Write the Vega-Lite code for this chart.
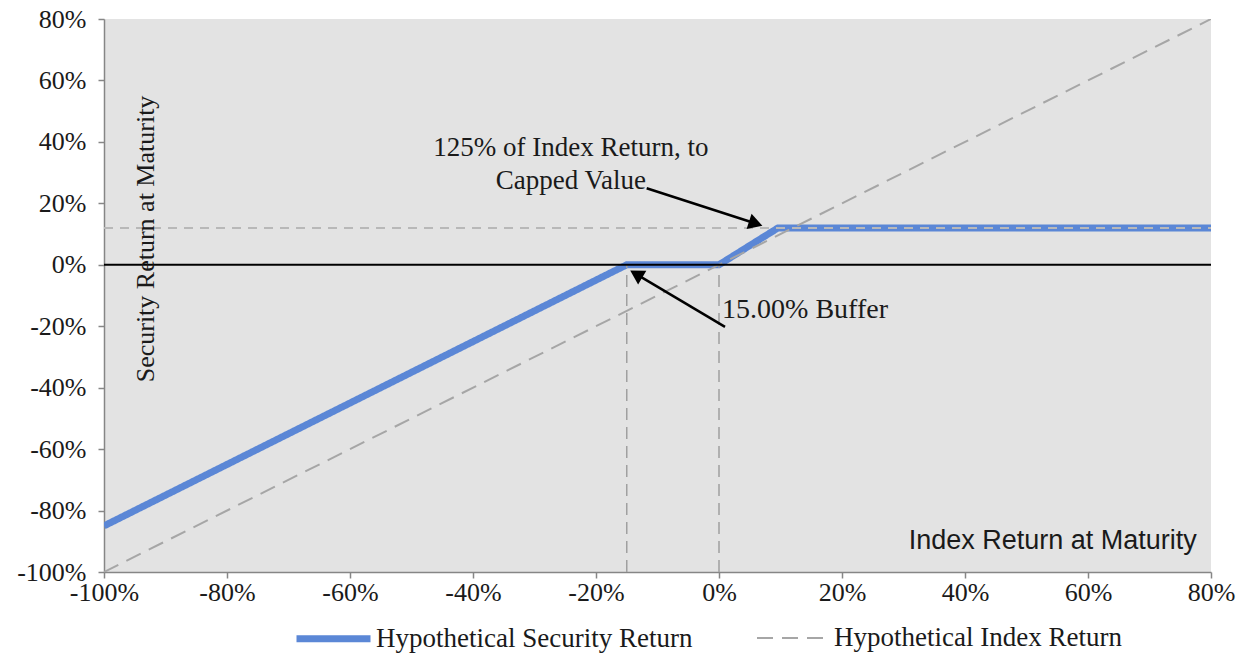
{
  "$schema": "https://vega.github.io/schema/vega-lite/v6.json",
  "width": 1107,
  "height": 553,
  "autosize": {"type": "none"},
  "padding": {"left": 104, "top": 19, "right": 41, "bottom": 83},
  "background": "white",
  "config": {
    "view": {"fill": "#e3e3e3", "stroke": null},
    "font": "Liberation Serif",
    "axis": {
      "labelFont": "Liberation Serif",
      "labelFontSize": 26,
      "labelColor": "#1a1a1a",
      "domainColor": "#868686",
      "domainWidth": 1.5,
      "tickColor": "#868686",
      "tickWidth": 1.5,
      "tickSize": 6,
      "grid": false,
      "title": null,
      "labelFlush": false,
      "labelOverlap": false
    },
    "legend": {
      "orient": "none", "legendX": 189, "legendY": 579, "direction": "horizontal", "title": null,
      "labelFont": "Liberation Serif", "labelFontSize": 27, "labelColor": "#1a1a1a", "labelLimit": 500,
      "symbolType": "stroke", "symbolSize": 5476, "columnPadding": 60, "labelOffset": 2
    }
  },
  "datasets": {
    "lines": [
      {"series": "Hypothetical Security Return", "index": -100, "ret": -85},
      {"series": "Hypothetical Security Return", "index": -15, "ret": 0},
      {"series": "Hypothetical Security Return", "index": 0, "ret": 0},
      {"series": "Hypothetical Security Return", "index": 9.6, "ret": 12},
      {"series": "Hypothetical Security Return", "index": 80, "ret": 12},
      {"series": "Hypothetical Index Return", "index": -100, "ret": -100},
      {"series": "Hypothetical Index Return", "index": 80, "ret": 80}
    ],
    "verticals": [
      {"index": -15, "lo": -100, "hi": 0},
      {"index": 0, "lo": -100, "hi": 0}
    ],
    "cap": [{"from": -100, "to": 80, "ret": 12}],
    "zero": [{"ret": 0}],
    "arrow1": [{"x1": -11.76, "y1": 24.9, "x2": 5.97, "y2": 13.43}],
    "arrow2": [{"x1": 0.98, "y1": -20.2, "x2": -13.46, "y2": -3.04}],
    "notes": [
      {"label": ["125% of Index Return, to", "Capped Value"], "index": -24.1, "ret": 37.9}
    ],
    "buffer": [{"label": "15.00% Buffer", "index": 0.5, "ret": -14.7}],
    "xtitle": [{"label": "Index Return at Maturity", "index": 77.7, "ret": -89.9}],
    "ytitle": [{"label": "Security Return at Maturity", "index": -93.2, "ret": 8.4}]
  },
  "layer": [
    {
      "data": {"name": "lines"},
      "mark": {"type": "line", "clip": true},
      "encoding": {
        "x": {
          "field": "index", "type": "quantitative",
          "scale": {"domain": [-100, 80], "nice": false, "zero": false},
          "axis": {"values": [-100, -80, -60, -40, -20, 0, 20, 40, 60, 80], "labelExpr": "datum.value + '%'", "labelPadding": 1}
        },
        "y": {
          "field": "ret", "type": "quantitative",
          "scale": {"domain": [-100, 80], "nice": false, "zero": false},
          "axis": {"values": [-100, -80, -60, -40, -20, 0, 20, 40, 60, 80], "labelExpr": "datum.value + '%'", "labelPadding": 12}
        },
        "color": {
          "field": "series", "type": "nominal",
          "scale": {"domain": ["Hypothetical Security Return", "Hypothetical Index Return"], "range": ["#5b87d6", "#a6a6a6"]}
        },
        "strokeDash": {
          "field": "series", "type": "nominal",
          "scale": {"domain": ["Hypothetical Security Return", "Hypothetical Index Return"], "range": [[1, 0], [16, 9]]}
        },
        "strokeWidth": {
          "field": "series", "type": "nominal",
          "scale": {"domain": ["Hypothetical Security Return", "Hypothetical Index Return"], "range": [7, 2]}
        }
      }
    },
    {
      "data": {"name": "verticals"},
      "mark": {"type": "rule", "color": "#a0a0a0", "strokeWidth": 1.5, "strokeDash": [12, 7]},
      "encoding": {
        "x": {"field": "index", "type": "quantitative"},
        "y": {"field": "lo", "type": "quantitative"},
        "y2": {"field": "hi"}
      }
    },
    {
      "data": {"name": "cap"},
      "mark": {"type": "rule", "color": "#b8b8b8", "strokeWidth": 2, "strokeDash": [9, 7]},
      "encoding": {
        "x": {"field": "from", "type": "quantitative"},
        "x2": {"field": "to"},
        "y": {"field": "ret", "type": "quantitative"}
      }
    },
    {
      "data": {"name": "zero"},
      "mark": {"type": "rule", "color": "#000000", "strokeWidth": 2},
      "encoding": {
        "y": {"field": "ret", "type": "quantitative"}
      }
    },
    {
      "data": {"name": "arrow1"},
      "mark": {"type": "rule", "color": "#000000", "strokeWidth": 2.5},
      "encoding": {
        "x": {"field": "x1", "type": "quantitative"},
        "y": {"field": "y1", "type": "quantitative"},
        "x2": {"field": "x2"},
        "y2": {"field": "y2"}
      }
    },
    {
      "data": {"name": "arrow1"},
      "mark": {"type": "point", "shape": "triangle-up", "filled": true, "color": "#000000", "opacity": 1, "size": 260, "angle": 108},
      "encoding": {
        "x": {"field": "x2", "type": "quantitative"},
        "y": {"field": "y2", "type": "quantitative"}
      }
    },
    {
      "data": {"name": "arrow2"},
      "mark": {"type": "rule", "color": "#000000", "strokeWidth": 2.5},
      "encoding": {
        "x": {"field": "x1", "type": "quantitative"},
        "y": {"field": "y1", "type": "quantitative"},
        "x2": {"field": "x2"},
        "y2": {"field": "y2"}
      }
    },
    {
      "data": {"name": "arrow2"},
      "mark": {"type": "point", "shape": "triangle-up", "filled": true, "color": "#000000", "opacity": 1, "size": 260, "angle": 300.6},
      "encoding": {
        "x": {"field": "x2", "type": "quantitative"},
        "y": {"field": "y2", "type": "quantitative"}
      }
    },
    {
      "data": {"name": "notes"},
      "mark": {"type": "text", "font": "Liberation Serif", "fontSize": 27, "color": "#1a1a1a", "align": "center", "baseline": "middle", "lineHeight": 33},
      "encoding": {
        "x": {"field": "index", "type": "quantitative"},
        "y": {"field": "ret", "type": "quantitative"},
        "text": {"field": "label"}
      }
    },
    {
      "data": {"name": "buffer"},
      "mark": {"type": "text", "font": "Liberation Serif", "fontSize": 28, "color": "#1a1a1a", "align": "left", "baseline": "middle"},
      "encoding": {
        "x": {"field": "index", "type": "quantitative"},
        "y": {"field": "ret", "type": "quantitative"},
        "text": {"field": "label"}
      }
    },
    {
      "data": {"name": "xtitle"},
      "mark": {"type": "text", "font": "Liberation Sans", "fontSize": 27, "color": "#1a1a1a", "align": "right", "baseline": "middle"},
      "encoding": {
        "x": {"field": "index", "type": "quantitative"},
        "y": {"field": "ret", "type": "quantitative"},
        "text": {"field": "label"}
      }
    },
    {
      "data": {"name": "ytitle"},
      "mark": {"type": "text", "font": "Liberation Serif", "fontSize": 26, "color": "#1a1a1a", "align": "center", "baseline": "middle", "angle": 270},
      "encoding": {
        "x": {"field": "index", "type": "quantitative"},
        "y": {"field": "ret", "type": "quantitative"},
        "text": {"field": "label"}
      }
    }
  ]
}
